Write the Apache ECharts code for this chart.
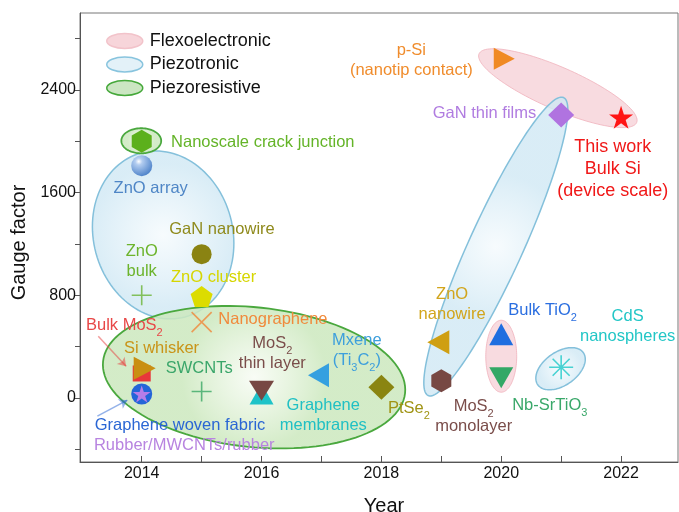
<!DOCTYPE html>
<html>
<head>
<meta charset="utf-8">
<script src="https://cdn.jsdelivr.net/npm/echarts@6/dist/echarts.min.js"></script>
<style>
  html, body { margin: 0; padding: 0; background: #fff; }
  #chart { width: 679px; height: 512px; }
</style>
</head>
<body>
<div id="chart"></div>
<script>
const FONT = '"Liberation Sans", Arial, Helvetica, sans-serif';

// ---- Reported sensors: year of report and gauge factor ----
const materials = [
  'Nanoscale crack junction', 'ZnO array', 'GaN nanowire', 'ZnO bulk', 'ZnO cluster',
  'Nanographene', 'Bulk MoS2', 'Si whisker', 'Graphene woven fabric', 'Rubber/MWCNTs/rubber',
  'SWCNTs', 'Graphene membranes', 'MoS2 thin layer', 'Mxene (Ti3C2)', 'PtSe2',
  'ZnO nanowire', 'MoS2 monolayer', 'Bulk TiO2', 'Nb-SrTiO3', 'CdS nanospheres',
  'GaN thin films', 'p-Si (nanotip contact)', 'This work'
];
const years = [
  2014, 2014, 2015, 2014, 2015,
  2015, 2014, 2014.05, 2014, 2014,
  2015, 2016, 2016, 2016.95, 2018,
  2018.95, 2019, 2020, 2020, 2021,
  2021, 2020.05, 2022
];
const gaugeFactors = [
  2000, 1810, 1120, 800, 790,
  590, 190, 230, 30, 30,
  50, 30, 56, 177, 83,
  433, 134, 496, 157, 239,
  2204, 2644, 2188
];

// ---- Mechanism regions: major-axis end points (year, gauge factor) and minor/major ratio ----
const regionGroups = ['Flexoelectronic', 'Flexoelectronic', 'Piezotronic', 'Piezotronic', 'Piezotronic', 'Piezoresistive', 'Piezoresistive'];
const regionStart = [[2019.63, 2682], [2020, 605], [2013.99, 1909], [2018.78, 18], [2020.61, 102], [2013.355, 285], [2013.66, 2004]];
const regionEnd   = [[2022.26, 2146], [2020, 44], [2014.725, 631], [2021.04, 2341], [2021.37, 352], [2018.395, 37], [2014.325, 2004]];
const regionRatio = [0.245, 0.43, 0.82, 0.165, 0.6, 0.46, 0.63];

// ---- Text annotations: text and anchor (year, gauge factor) ----
const labelTexts = [
  'Nanoscale crack junction', 'ZnO array', 'GaN nanowire', 'ZnO\nbulk', 'ZnO cluster',
  'Nanographene', 'Bulk MoS{s|2}', 'Si whisker', 'SWCNTs', 'MoS{s|2}\nthin layer',
  'Mxene\n(Ti{s|3}C{s|2})', 'Graphene\nmembranes', 'Graphene woven fabric', 'Rubber/MWCNTs/rubber', 'PtSe{s|2}',
  'ZnO\nnanowire', 'MoS{s|2}\nmonolayer', 'Bulk TiO{s|2}', 'Nb-SrTiO{s|3}', 'CdS\nnanospheres',
  'GaN thin films', 'p-Si\n(nanotip contact)', 'This work\nBulk Si\n(device scale)'
];
const labelYears = [
  2014.49, 2014.15, 2015.34, 2014.0, 2015.2,
  2016.19, 2013.71, 2014.33, 2014.96, 2016.18,
  2017.59, 2017.03, 2014.64, 2014.71, 2018.46,
  2019.18, 2019.54, 2020.69, 2020.81, 2022.11,
  2019.72, 2018.5, 2021.86
];
const labelGF = [
  1990, 1632, 1313, 1060, 939,
  612, 566, 387, 231, 348,
  371, -135, -212, -368, -80,
  729, -143, 682, -57, 554,
  2216, 2632, 1780
];

// Arrows from labels to the overlapping 2014 markers
const arrowFrom = [[2013.275, 480], [2013.26, -142]];
const arrowTo   = [[2013.74, 247], [2013.76, -18]];

// ---- Styling ----
function polyPath(n, rOuter, rInner, rot) {
  const pts = [];
  const k = rInner == null ? n : n * 2;
  for (let i = 0; i < k; i++) {
    const r = rInner == null ? rOuter : (i % 2 ? rInner : rOuter);
    const a = (rot + i * 360 / k) * Math.PI / 180;
    pts.push((50 + r * Math.cos(a)).toFixed(2) + ',' + (50 + r * Math.sin(a)).toFixed(2));
  }
  return 'path://M' + pts.join(' L') + ' Z';
}
const HEX = polyPath(6, 50, null, -90);
const PENT = polyPath(5, 50, null, -90);
const STAR = polyPath(5, 50, 19.1, -90);
const PLUS = 'path://M50,0 L50,100 M0,50 L100,50';
const CROSS = 'path://M0,0 L100,100 M100,0 L0,100';
const ASTER = 'path://M50,0 L50,100 M0,50 L100,50 M14.6,14.6 L85.4,85.4 M85.4,14.6 L14.6,85.4';

const sphere = new echarts.graphic.RadialGradient(0.36, 0.3, 0.75, [
  { offset: 0, color: '#ffffff' }, { offset: 0.22, color: '#b3cdf0' }, { offset: 1, color: '#4a80c8' }
]);

const markerStyle = {
  'Nanoscale crack junction': { symbol: HEX, size: [20, 23], color: '#5cb01c' },
  'ZnO array': { symbol: 'circle', size: 21, color: sphere },
  'GaN nanowire': { symbol: 'circle', size: 20, color: '#8a8312' },
  'ZnO bulk': { symbol: PLUS, size: 20, stroke: '#6cb436' },
  'ZnO cluster': { symbol: PENT, size: [22, 21], color: '#dcdc00' },
  'Nanographene': { symbol: CROSS, size: 20, stroke: '#f0873a' },
  'Bulk MoS2': { symbol: 'rect', size: [18, 16], color: '#e8363a' },
  'Si whisker': { symbol: 'triangle', size: [23, 22], rotate: -90, color: '#c98f12' },
  'Graphene woven fabric': { symbol: 'circle', size: 21, color: '#2465d8' },
  'Rubber/MWCNTs/rubber': { symbol: STAR, size: [18, 17], color: '#b77de8' },
  'SWCNTs': { symbol: PLUS, size: 20, stroke: '#3aa765' },
  'Graphene membranes': { symbol: 'triangle', size: [24, 21], color: '#1ec3c8' },
  'MoS2 thin layer': { symbol: 'triangle', size: [25, 20], rotate: 180, color: '#774843' },
  'Mxene (Ti3C2)': { symbol: 'triangle', size: [24, 21], rotate: 90, color: '#35a0e0' },
  'PtSe2': { symbol: 'diamond', size: [26, 25], color: '#8a8511' },
  'ZnO nanowire': { symbol: 'triangle', size: [24, 22], rotate: 90, color: '#cf9f12' },
  'MoS2 monolayer': { symbol: HEX, size: [20, 23], color: '#774843' },
  'Bulk TiO2': { symbol: 'triangle', size: [24, 22], color: '#1f6ee0' },
  'Nb-SrTiO3': { symbol: 'triangle', size: [24, 21], rotate: 180, color: '#33a866' },
  'CdS nanospheres': { symbol: ASTER, size: 24, stroke: '#1ec8c8' },
  'GaN thin films': { symbol: 'diamond', size: [26, 25], color: '#b073e0' },
  'p-Si (nanotip contact)': { symbol: 'triangle', size: [22, 21], rotate: -90, color: '#f08a24' },
  'This work': { symbol: STAR, size: [24, 23], color: '#ff1414' }
};

const labelColors = [
  '#64b428', '#4f86c6', '#8f8a1c', '#6cb42c', '#d6d600',
  '#f08a3c', '#e84848', '#c99418', '#3aa66a', '#7a4d4a',
  '#3d9fdc', '#20c0c4', '#2a66d4', '#b884e0', '#a09414',
  '#d2a51c', '#7a4d4a', '#2a6ee0', '#3aa86a', '#22c6c6',
  '#b07ce0', '#f08c2c', '#f01818'
];

const groupStyle = {
  Flexoelectronic: {
    fill: 'rgba(243, 190, 198, 0.55)', stroke: 'rgba(240, 178, 188, 0.8)', lineWidth: 1,
    legendFill: '#f7d5da', legendStroke: '#f2c3ca'
  },
  Piezotronic: {
    fill: new echarts.graphic.RadialGradient(0.5, 0.5, 0.5, [
      { offset: 0, color: 'rgba(244, 250, 253, 0.75)' }, { offset: 1, color: 'rgba(208, 232, 244, 0.8)' }
    ]),
    stroke: '#84c0db', lineWidth: 1.5, legendFill: '#e3f1f8', legendStroke: '#88c4de'
  },
  Piezoresistive: {
    fill: new echarts.graphic.RadialGradient(0.5, 0.5, 0.5, [
      { offset: 0, color: 'rgba(246, 251, 242, 0.75)' }, { offset: 1, color: 'rgba(204, 232, 190, 0.85)' }
    ]),
    stroke: '#4aa83e', lineWidth: 1.8, legendFill: '#cbe6c2', legendStroke: '#45a83a'
  }
};

// ---- Series construction ----
const scatterData = materials.map((m, i) => {
  const s = markerStyle[m];
  const item = {
    name: m,
    value: [years[i], gaugeFactors[i]],
    symbol: s.symbol,
    symbolSize: s.size,
    symbolRotate: s.rotate || 0
  };
  item.itemStyle = s.stroke
    ? { color: 'rgba(0,0,0,0)', borderColor: s.stroke, borderWidth: 1.6 }
    : { color: s.color, opacity: 1 };
  return item;
});

function ellipseSeries(group) {
  const idx = regionGroups.map((g, i) => (g === group ? i : -1)).filter(i => i >= 0);
  const st = groupStyle[group];
  return {
    type: 'custom',
    name: group,
    z: 1,
    silent: true,
    itemStyle: { color: st.legendFill, borderColor: st.legendStroke, borderWidth: 1.5 },
    data: idx.map(i => [regionStart[i][0], regionStart[i][1], regionEnd[i][0], regionEnd[i][1], regionRatio[i]]),
    encode: { x: [0, 2], y: [1, 3] },
    renderItem: function (params, api) {
      const p1 = api.coord([api.value(0), api.value(1)]);
      const p2 = api.coord([api.value(2), api.value(3)]);
      const ratio = api.value(4);
      const cx = (p1[0] + p2[0]) / 2, cy = (p1[1] + p2[1]) / 2;
      const dx = (p2[0] - p1[0]) / 2, dy = (p2[1] - p1[1]) / 2;
      const a = Math.hypot(dx, dy);
      const ux = dx / a, uy = dy / a;
      const b = a * ratio;
      const pts = [];
      for (let k = 0; k < 120; k++) {
        const t = k / 120 * Math.PI * 2;
        const ca = a * Math.cos(t), sb = b * Math.sin(t);
        pts.push([cx + ca * ux - sb * uy, cy + ca * uy + sb * ux]);
      }
      return {
        type: 'polygon',
        shape: { points: pts },
        style: { fill: st.fill, stroke: st.stroke, lineWidth: st.lineWidth }
      };
    }
  };
}

const subStyle = (size) => ({ font: Math.round(size * 0.66) + 'px ' + FONT, lineHeight: 10, padding: [Math.round(size * 0.95), 0, 0, 0] });

const labelSeries = {
  type: 'custom',
  name: 'labels',
  z: 5,
  silent: true,
  data: labelTexts.map((t, i) => [labelYears[i], labelGF[i]]),
  encode: { x: 0, y: 1 },
  renderItem: function (params, api) {
    const i = params.dataIndex;
    const pt = api.coord([api.value(0), api.value(1)]);
    const big = i === labelTexts.length - 1;
    const size = big ? 18 : 16.5;
    return {
      type: 'text',
      x: pt[0],
      y: pt[1],
      style: {
        text: labelTexts[i],
        fill: labelColors[i],
        font: size + 'px ' + FONT,
        align: i === 0 ? 'left' : 'center',
        verticalAlign: 'middle',
        lineHeight: big ? 22 : 20,
        rich: { s: subStyle(size) }
      }
    };
  }
};

const arrowSeries = {
  type: 'lines',
  coordinateSystem: 'cartesian2d',
  z: 6,
  silent: true,
  symbol: ['none', 'arrow'],
  symbolSize: 8,
  data: arrowFrom.map((p, i) => ({
    coords: [p, arrowTo[i]],
    lineStyle: { color: i === 0 ? '#e83a3a' : '#2a66d4', width: 1.5 }
  }))
};

const ELLIPSE_ICON = 'path://M0,50 C0,22.4 22.4,0 50,0 C77.6,0 100,22.4 100,50 C100,77.6 77.6,100 50,100 C22.4,100 0,77.6 0,50 Z';

const option = {
  animation: false,
  backgroundColor: '#fff',
  textStyle: { fontFamily: FONT },
  grid: {
    left: 80, right: 1, top: 13, bottom: 50,
    containLabel: false, outerBoundsMode: 'none',
    show: true, borderColor: '#777', borderWidth: 1
  },
  legend: {
    orient: 'vertical',
    left: 101,
    top: 27,
    itemWidth: 36,
    itemHeight: 15,
    itemGap: 5.5,
    symbolKeepAspect: false,
    textStyle: { fontSize: 18, color: '#111', fontFamily: FONT, padding: [0, 0, 0, 2] },
    data: ['Flexoelectronic', 'Piezotronic', 'Piezoresistive'].map(g => ({
      name: g,
      icon: ELLIPSE_ICON,
      itemStyle: { color: groupStyle[g].legendFill, borderColor: groupStyle[g].legendStroke, borderWidth: 1.5 }
    }))
  },
  xAxis: {
    type: 'value',
    min: 2012.97,
    max: 2022.95,
    name: 'Year',
    nameLocation: 'middle',
    nameGap: 34,
    nameTextStyle: { fontSize: 20, color: '#111', fontFamily: FONT, padding: [0, 0, 0, 10] },
    axisLine: { show: true, onZero: false, lineStyle: { color: '#555', width: 1 } },
    axisTick: {
      show: true, inside: true, length: 6,
      customValues: [2014, 2015, 2016, 2017, 2018, 2019, 2020, 2021, 2022],
      lineStyle: { color: '#555' }
    },
    axisLabel: {
      customValues: [2014, 2016, 2018, 2020, 2022],
      formatter: v => String(v),
      fontSize: 16, color: '#111', margin: 4, fontFamily: FONT
    },
    splitLine: { show: false }
  },
  yAxis: {
    type: 'value',
    min: -500,
    max: 3000,
    name: 'Gauge factor',
    nameLocation: 'middle',
    nameGap: 43,
    nameTextStyle: { fontSize: 20, color: '#111', fontFamily: FONT, padding: [0, 10, 0, 0] },
    axisLine: { show: true, onZero: false, lineStyle: { color: '#555', width: 1 } },
    axisTick: {
      show: true, inside: false, length: 5,
      customValues: [-400, 0, 400, 800, 1200, 1600, 2000, 2400, 2800],
      lineStyle: { color: '#555' }
    },
    axisLabel: {
      customValues: [0, 800, 1600, 2400],
      formatter: v => String(v),
      fontSize: 16, color: '#111', margin: 4, fontFamily: FONT
    },
    splitLine: { show: false }
  },
  series: [
    ellipseSeries('Flexoelectronic'),
    ellipseSeries('Piezotronic'),
    ellipseSeries('Piezoresistive'),
    {
      type: 'scatter',
      name: 'sensors',
      z: 3,
      silent: true,
      data: scatterData
    },
    labelSeries,
    arrowSeries
  ]
};

const chart = echarts.init(document.getElementById('chart'), null, { renderer: 'canvas' });
chart.setOption(option);
</script>
</body>
</html>
